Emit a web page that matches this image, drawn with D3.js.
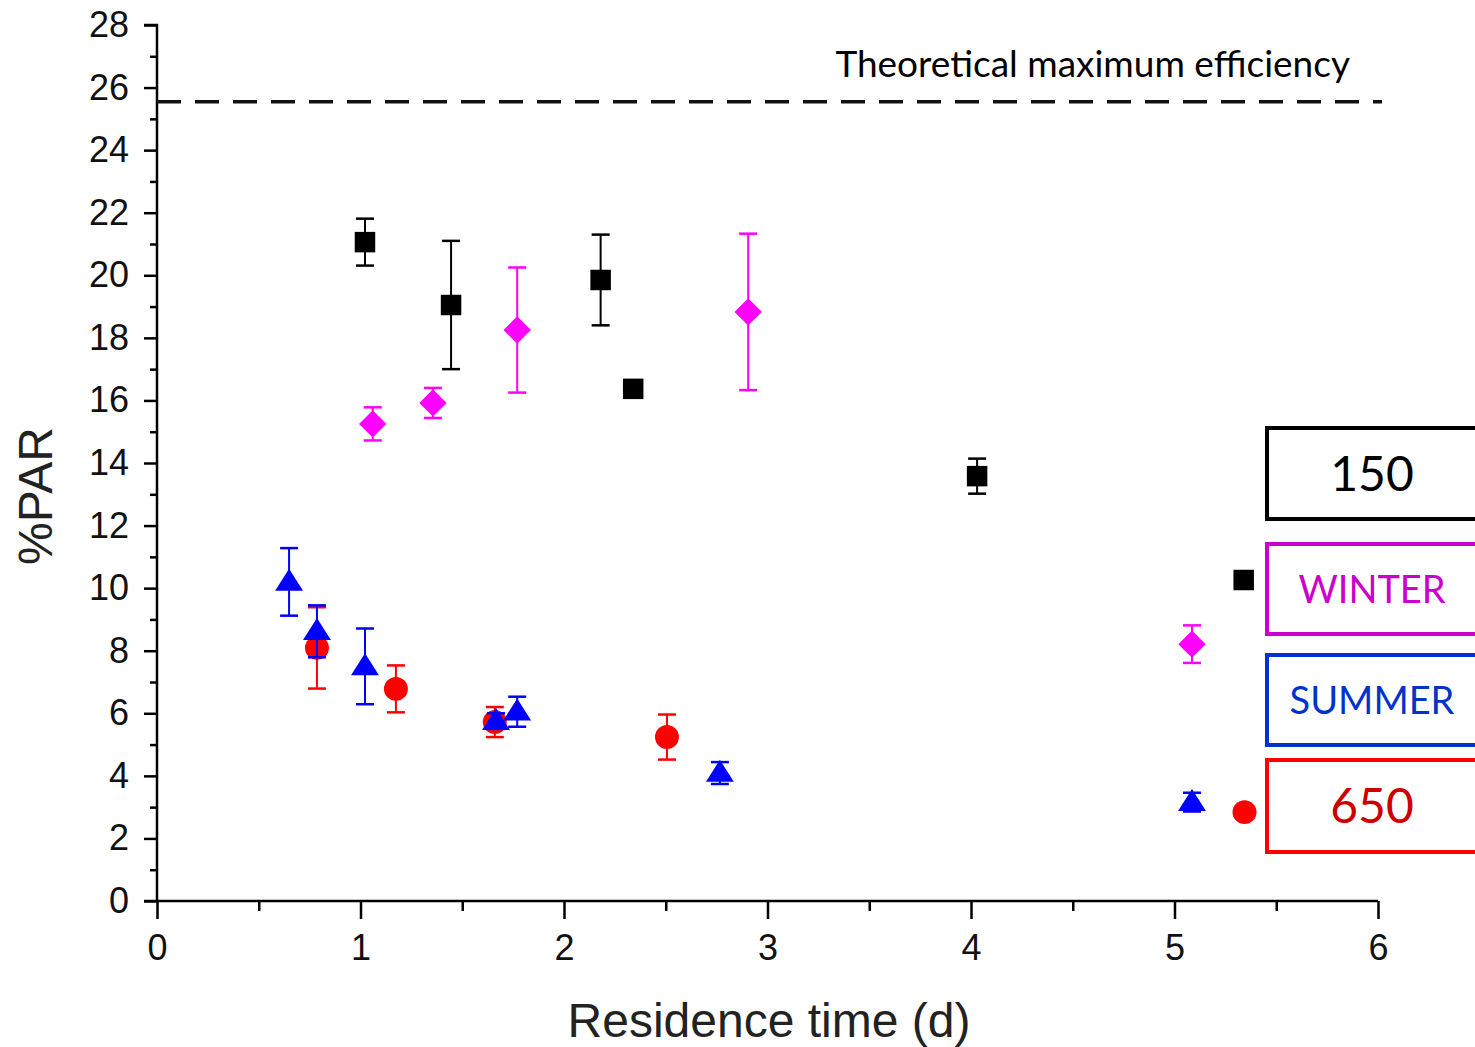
<!DOCTYPE html>
<html>
<head>
<meta charset="utf-8">
<script src="https://cdn.jsdelivr.net/npm/d3@7"></script>
<style>
  body { margin: 0; background: #fff; }
  svg { display: block; }
</style>
</head>
<body>
<svg id="chart"></svg>
<script>
// data
var xTicks = [0, 1, 2, 3, 4, 5, 6];
var yTicks = [0, 2, 4, 6, 8, 10, 12, 14, 16, 18, 20, 22, 24, 26, 28];
var theoMax = 25.55;

var blackX   = [1.022, 1.445, 2.18, 2.34, 4.03, 5.34];
var blackY   = [21.06, 19.05, 19.85, 16.37, 13.58, 10.26];
var blackErr = [0.75, 2.05, 1.45, null, 0.56, null];

var pinkX   = [1.06, 1.356, 1.77, 2.905, 5.086];
var pinkY   = [15.25, 15.92, 18.25, 18.83, 8.21];
var pinkErr = [0.53, 0.48, 2.0, 2.5, 0.6];

var blueX   = [0.649, 0.786, 1.022, 1.666, 1.77, 2.766, 5.086];
var blueY   = [10.2, 8.62, 7.5, 5.75, 6.05, 4.09, 3.16];
var blueErr = [1.08, 0.83, 1.21, 0.25, 0.48, 0.35, 0.3];

var redX   = [0.786, 1.174, 1.66, 2.506, 5.344];
var redY   = [8.09, 6.78, 5.72, 5.24, 2.84];
var redErr = [1.3, 0.75, 0.48, 0.72, null];

var legendLabels = ["150", "WINTER", "SUMMER", "650"];

var W = 1475, H = 1047;
var svg = d3.select("#chart").attr("width", W).attr("height", H);

var x = d3.scaleLinear().domain([0, 6]).range([157, 1378]);
var y = d3.scaleLinear().domain([0, 28]).range([901, 25]);

var axisFont = "'Liberation Sans', Arial, sans-serif";
var labelFont = "Lato, 'Noto Sans', sans-serif";

// y axis
var yAxis = svg.append("g").attr("transform", "translate(" + x(0) + ",0)")
  .call(d3.axisLeft(y).tickValues(yTicks).tickSize(13).tickPadding(15).tickFormat(d3.format("d")));
yAxis.select(".domain").attr("stroke-width", 2.5).attr("d", "M0," + y(0) + "V" + y(28) + "H-13");
yAxis.selectAll(".tick line").attr("stroke-width", 2.5);
yAxis.selectAll(".tick text").attr("font-family", axisFont).attr("font-size", 36).attr("fill", "#111");
svg.append("g").attr("transform", "translate(" + x(0) + ",0)")
  .call(d3.axisLeft(y).tickValues(d3.range(1, 28, 2)).tickSize(7).tickFormat(""))
  .call(function(g){ g.select(".domain").remove(); g.selectAll("line").attr("stroke-width", 2.5); });

// x axis
var xAxis = svg.append("g").attr("transform", "translate(0," + y(0) + ")")
  .call(d3.axisBottom(x).tickValues(xTicks).tickSize(18).tickPadding(15).tickFormat(d3.format("d")));
xAxis.select(".domain").attr("stroke-width", 2.5).attr("d", "M" + (x(0) - 13) + ",0H" + x(6));
xAxis.selectAll(".tick line").attr("stroke-width", 2.5);
xAxis.selectAll(".tick text").attr("font-family", axisFont).attr("font-size", 36).attr("fill", "#111");
svg.append("g").attr("transform", "translate(0," + y(0) + ")")
  .call(d3.axisBottom(x).tickValues(d3.range(0.5, 6, 1)).tickSize(10).tickFormat(""))
  .call(function(g){ g.select(".domain").remove(); g.selectAll("line").attr("stroke-width", 2.5); });

// axis titles
svg.append("text").attr("x", 769).attr("y", 1037).attr("text-anchor", "middle")
  .attr("font-family", axisFont).attr("font-size", 48).attr("fill", "#222")
  .text("Residence time (d)");
svg.append("text").attr("transform", "translate(52," + 496 + ") rotate(-90)")
  .attr("text-anchor", "middle").attr("font-family", axisFont).attr("font-size", 48).attr("fill", "#222")
  .text("%PAR");

// theoretical maximum
svg.append("line").attr("x1", x(0)).attr("x2", 1382).attr("y1", y(theoMax)).attr("y2", y(theoMax))
  .attr("stroke", "#111").attr("stroke-width", 3.5).attr("stroke-dasharray", "24,14");
svg.append("text").attr("x", 1350).attr("y", 77).attr("text-anchor", "end")
  .attr("font-family", labelFont).attr("font-size", 37).attr("fill", "#000")
  .text("Theoretical maximum efficiency");

// series
var rotSquare = { draw: function(ctx, size){ var r = Math.sqrt(size) / Math.SQRT2 * 1.05;
  ctx.moveTo(0, -r); ctx.lineTo(r, 0); ctx.lineTo(0, r); ctx.lineTo(-r, 0); ctx.closePath(); } };
var wideTri = { draw: function(ctx, size){ var h = Math.sqrt(size), w = h * 1.27;
  ctx.moveTo(0, -h * 0.6); ctx.lineTo(w / 2, h * 0.4); ctx.lineTo(-w / 2, h * 0.4); ctx.closePath(); } };

// red drawn before blue so triangles sit on top, as in the original
var series = [
  {xs: blackX, ys: blackY, err: blackErr, color: "#000000", sym: d3.symbolSquare, size: 420},
  {xs: pinkX,  ys: pinkY,  err: pinkErr,  color: "#ff00ff", sym: rotSquare, size: 340},
  {xs: redX,   ys: redY,   err: redErr,   color: "#ff0000", sym: d3.symbolCircle, size: 450},
  {xs: blueX,  ys: blueY,  err: blueErr,  color: "#0000ff", sym: wideTri, size: 484}
];

series.forEach(function(s){
  var pts = s.xs.map(function(v, i){ return {x: v, y: s.ys[i], e: s.err[i]}; });
  var g = svg.append("g");
  var withErr = pts.filter(function(d){ return d.e != null; });
  g.selectAll("line.bar").data(withErr).enter().append("line")
    .attr("x1", function(d){ return x(d.x); }).attr("x2", function(d){ return x(d.x); })
    .attr("y1", function(d){ return y(d.y + d.e); }).attr("y2", function(d){ return y(d.y - d.e); })
    .attr("stroke", s.color).attr("stroke-width", 2);
  [1, -1].forEach(function(sg){
    g.selectAll("line.cap" + sg).data(withErr).enter().append("line")
      .attr("x1", function(d){ return x(d.x) - 9; }).attr("x2", function(d){ return x(d.x) + 9; })
      .attr("y1", function(d){ return y(d.y + sg * d.e); }).attr("y2", function(d){ return y(d.y + sg * d.e); })
      .attr("stroke", s.color).attr("stroke-width", 2.5);
  });
  g.selectAll("path").data(pts).enter().append("path")
    .attr("transform", function(d){ return "translate(" + x(d.x) + "," + y(d.y) + ")"; })
    .attr("d", d3.symbol().type(s.sym).size(s.size))
    .attr("fill", s.color);
});

// legend boxes on the right
var boxTop = [428, 544, 655, 760];
var boxH = [91, 90, 90, 92];
var boxStroke = ["#000000", "#cc00cc", "#0033cc", "#ff0000"];
var boxText = ["#000000", "#cc00cc", "#0033cc", "#cc0000"];
var boxSize = [48, 38, 38, 48];
var lg = svg.append("g");
legendLabels.forEach(function(lbl, i){
  lg.append("rect").attr("x", 1267).attr("y", boxTop[i]).attr("width", 240).attr("height", boxH[i])
    .attr("fill", "#fff").attr("stroke", boxStroke[i]).attr("stroke-width", 4);
  lg.append("text").attr("x", 1372).attr("y", boxTop[i] + boxH[i] / 2).attr("dy", "0.36em")
    .attr("text-anchor", "middle").attr("font-family", labelFont).attr("font-size", boxSize[i])
    .attr("fill", boxText[i]).text(lbl);
});
</script>
</body>
</html>
